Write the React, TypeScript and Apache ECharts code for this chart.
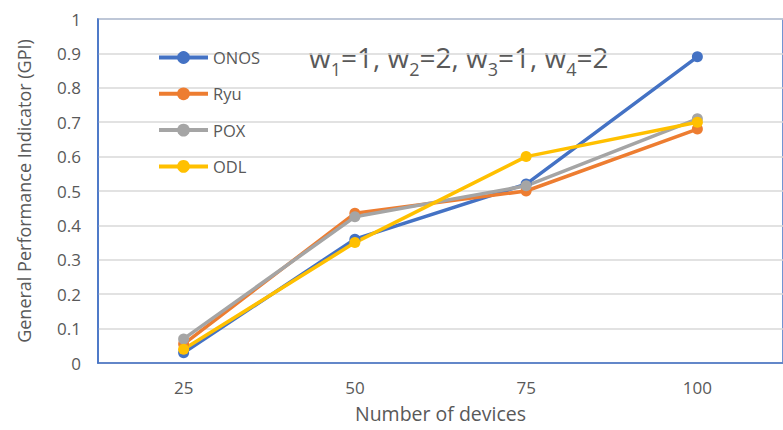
import React, { useEffect, useRef } from "react";
import * as echarts from "echarts";

const categories = ["25", "50", "75", "100"];
const onos = [0.03, 0.36, 0.52, 0.89];
const ryu = [0.055, 0.435, 0.5, 0.68];
const pox = [0.07, 0.425, 0.515, 0.71];
const odl = [0.04, 0.35, 0.6, 0.7];
const seriesNames = ["ONOS", "Ryu", "POX", "ODL"];
const colors = ["#4472C4", "#ED7D31", "#A5A5A5", "#FFC000"];

const FONT = "'Open Sans', 'Liberation Sans', sans-serif";

export default function App() {
  const ref = useRef<HTMLDivElement>(null);
  useEffect(() => {
    if (!ref.current) return;
    const chart = echarts.init(ref.current, undefined, { renderer: "svg" });
    const data = [onos, ryu, pox, odl];
    chart.setOption({
      animation: false,
      backgroundColor: "#ffffff",
      textStyle: { fontFamily: FONT },
      grid: {
        left: 98,
        top: 19,
        width: 690,
        height: 344,
        show: true,
        borderColor: "#4472C4",
        borderWidth: 1.5,
        containLabel: false,
      },
      legend: {
        orient: "vertical",
        left: 157,
        top: 49,
        padding: 0,
        itemWidth: 49,
        itemHeight: 16,
        itemGap: 19.3,
        data: seriesNames,
        lineStyle: { width: 4 },
        textStyle: { color: "#595959", fontSize: 16.5, fontFamily: FONT },
      },
      graphic: [
        {
          type: "text",
          left: 309,
          top: 43,
          style: {
            text: "{a|w}{s|1}{a|=1, w}{s|2}{a|=2, w}{s|3}{a|=1, w}{s|4}{a|=2}",
            rich: {
              a: { fontSize: 28, fill: "#595959", fontFamily: FONT, verticalAlign: "top", lineHeight: 34 },
              s: { fontSize: 18, fill: "#595959", fontFamily: FONT, verticalAlign: "top", lineHeight: 18, padding: [17, 0, 0, 0] },
            },
          },
        },
      ],
      xAxis: {
        type: "category",
        data: categories,
        boundaryGap: true,
        name: "Number of devices",
        nameLocation: "middle",
        nameGap: 40,
        nameTextStyle: { color: "#595959", fontSize: 19.5, fontFamily: FONT },
        axisLine: { show: true, lineStyle: { color: "#4472C4", width: 1.5 } },
        axisTick: { show: false },
        axisLabel: { color: "#595959", fontSize: 17, margin: 16, fontFamily: FONT },
        splitLine: { show: false },
      },
      yAxis: {
        type: "value",
        min: 0,
        max: 1,
        interval: 0.1,
        name: "General Performance Indicator (GPI)",
        nameLocation: "middle",
        nameGap: 65,
        nameTextStyle: { color: "#595959", fontSize: 18, fontFamily: FONT },
        axisLine: { show: true, lineStyle: { color: "#4472C4", width: 1.5 } },
        axisTick: { show: false },
        axisLabel: {
          color: "#595959",
          fontSize: 17,
          margin: 17,
          fontFamily: FONT,
          formatter: (v: number) => String(Math.round(v * 10) / 10),
        },
        splitLine: { show: true, lineStyle: { color: "#D9D9D9", width: 1.5 } },
      },
      series: seriesNames.map((name, i) => ({
        name,
        type: "line",
        data: data[i],
        symbol: "circle",
        symbolSize: 11,
        color: colors[i],
        lineStyle: { width: 3.5, color: colors[i] },
        itemStyle: { color: colors[i] },
      })),
    });
    return () => chart.dispose();
  }, []);
  return <div ref={ref} style={{ width: 783, height: 430, position: "absolute", left: 0, top: 0 }} />;
}
